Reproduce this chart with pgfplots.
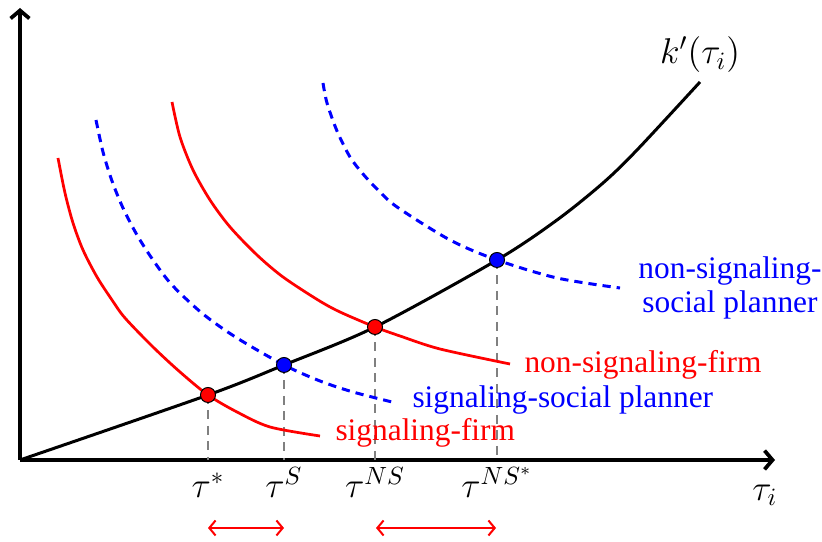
\documentclass[border=0pt]{standalone}
\usepackage{fontspec}
\setmainfont{Liberation Serif}
\usepackage{pgfplots}
\pgfplotsset{compat=1.18}
\usetikzlibrary{arrows.meta}

\tikzset{
  firm/.style={red, line width=1.1bp, smooth},
  planner/.style={blue, line width=1.2bp, smooth, dash pattern=on 3.3bp off 2.4bp},
  drop/.style={gray, line width=0.8bp, dash pattern=on 3.6bp off 2.6bp},
  lbl/.style={font=\fontsize{12.6}{13.6}\selectfont, inner sep=0pt},
}

\begin{document}
\begin{tikzpicture}
\begin{axis}[
    x=0.4bp, y=0.4bp,
    xmin=0, xmax=755, ymin=0, ymax=452,
    axis lines=left,
    axis line style={line width=1.5bp, -{Straight Barb[length=3.2bp,width=7.5bp]}},
    xtick={188,264,355,477},
    xticklabels={$\tau^{*}$,$\tau^{S}$,$\tau^{NS}$,$\tau^{NS^{*}}$},
    ytick=\empty,
    major tick length=0pt,
    xticklabel style={anchor=base, yshift=-15bp, font=\fontsize{14}{16}\selectfont},
    clip=false,
]
% frame of the page
\path (axis cs:-20,-82) rectangle (axis cs:802,460);

% drop lines
\addplot[drop] coordinates {(188,65) (188,0)};
\addplot[drop] coordinates {(264,95) (264,0)};
\addplot[drop] coordinates {(355,133) (355,0)};
\addplot[drop] coordinates {(477,200) (477,0)};

% k'(tau)
\addplot[black, line width=1.2bp, smooth] coordinates {
    (0,0) (188,65) (264,95) (355,133) (477,200) (537,240) (583,277)
    (617,310) (680,378)
};

% signaling-firm
\addplot[firm] coordinates {
    (38,302) (45,267) (53,237) (63,210) (77,183) (92,160) (105,142)
    (133,113) (160,88) (188,65) (217,48) (250,33) (300,24)
};
% signaling-social planner
\addplot[planner] coordinates {
    (76,340) (83,308) (92,279) (103,252) (117,225) (133,200) (152,175)
    (183,146) (217,122) (264,95) (300,79) (333,68) (372,58)
};
% non-signaling-firm
\addplot[firm] coordinates {
    (152,358) (160,323) (173,290) (190,260) (210,233) (237,205) (263,183)
    (298,160) (320,148) (355,133) (380,124) (420,111) (490,96)
};
% non-signaling-social planner
\addplot[planner] coordinates {
    (303,377) (307,357) (317,329) (330,303) (343,286) (357,271) (377,253)
    (430,220) (477,200) (537,182) (600,172)
};

% equilibria
\addplot[only marks, mark=*, mark size=3bp,
    mark options={fill=red, draw=black, line width=0.4bp}]
    coordinates {(188,65) (355,133)};
\addplot[only marks, mark=*, mark size=3bp,
    mark options={fill=blue, draw=black, line width=0.4bp}]
    coordinates {(264,95) (477,200)};

% gaps
\addplot[red, line width=0.8bp, <->, >={Straight Barb[length=2.5bp,width=6bp]}]
    coordinates {(188,-68) (264,-68)};
\addplot[red, line width=0.8bp, <->, >={Straight Barb[length=2.5bp,width=6bp]}]
    coordinates {(356,-68) (476,-68)};

% labels
\node[font=\fontsize{14}{16}\selectfont] at (axis cs:680,405) {$k'(\tau_i)$};
\node[font=\fontsize{14}{16}\selectfont] at (axis cs:745,-35) {$\tau_i$};
\node[lbl, red, anchor=west] at (axis cs:504,95) {non-signaling-firm};
\node[lbl, blue, anchor=west] at (axis cs:392,60) {signaling-social planner};
\node[lbl, red, anchor=west] at (axis cs:315,27) {signaling-firm};
\node[lbl, blue, align=center] at (axis cs:710,172) {non-signaling-\\social planner};
\end{axis}
\end{tikzpicture}
\end{document}
